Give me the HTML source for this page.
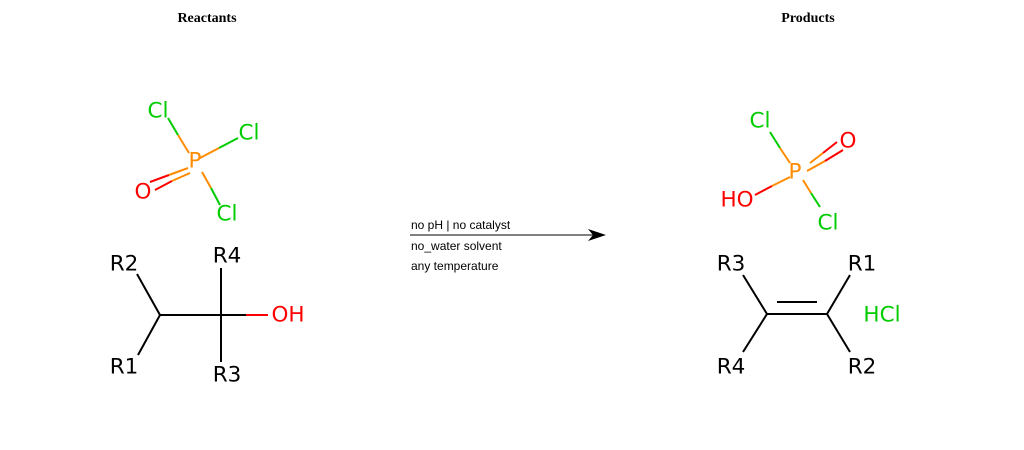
<!DOCTYPE html>
<html><head><meta charset="utf-8"><style>
html,body{margin:0;padding:0;background:#fff;}
svg{display:block;}
.t{font-family:"DejaVu Sans","Liberation Sans",sans-serif;font-size:21.5px;text-anchor:middle;dominant-baseline:central;}
.h{font-family:"Liberation Serif",serif;font-weight:bold;font-size:14px;text-anchor:middle;}
.c{font-family:"Liberation Sans",sans-serif;font-size:12px;}
</style></head><body>
<svg width="1024" height="450" viewBox="0 0 1024 450">
<text class="h" x="207" y="22">Reactants</text>
<text class="h" x="808" y="22">Products</text>

<g stroke-width="2" fill="none">
<line x1="168" y1="118" x2="178" y2="135" stroke="#00cc00"/><line x1="178" y1="135" x2="189" y2="153" stroke="#ff8c00"/>
<line x1="238" y1="138" x2="219" y2="148" stroke="#00cc00"/><line x1="219" y1="148" x2="200" y2="158" stroke="#ff8c00"/>
<line x1="150" y1="182" x2="169" y2="175" stroke="#ff0000"/><line x1="169" y1="175" x2="188" y2="168" stroke="#ff8c00"/>
<line x1="155" y1="190" x2="172" y2="181" stroke="#ff0000"/><line x1="172" y1="181" x2="190" y2="173" stroke="#ff8c00"/>
<line x1="202" y1="172" x2="211" y2="188" stroke="#ff8c00"/><line x1="211" y1="188" x2="220" y2="205" stroke="#00cc00"/>
</g>
<text class="t" x="158" y="111" fill="#00cc00">Cl</text>
<text class="t" x="249" y="133" fill="#00cc00">Cl</text>
<text class="t" x="195" y="161" fill="#ff8c00">P</text>
<text class="t" x="143" y="192" fill="#ff0000">O</text>
<text class="t" x="227" y="214" fill="#00cc00">Cl</text>

<g stroke-width="2" fill="none" stroke="#000">
<line x1="137" y1="274" x2="160" y2="315"/><line x1="160" y1="315" x2="138" y2="355"/>
<line x1="160" y1="315" x2="221" y2="315"/>
<line x1="221" y1="268" x2="221" y2="362"/>
<line x1="221" y1="315" x2="246" y2="315"/><line x1="246" y1="315" x2="268" y2="315" stroke="#ff0000"/>
</g>
<text class="t" x="124" y="264" fill="#000">R2</text>
<text class="t" x="124" y="367" fill="#000">R1</text>
<text class="t" x="227" y="256" fill="#000">R4</text>
<text class="t" x="227" y="375" fill="#000">R3</text>
<text class="t" x="288" y="315" fill="#ff0000">OH</text>

<g>
<line x1="410" y1="235" x2="595" y2="235" stroke="#000" stroke-width="1"/>
<polygon points="606,235 588,229 593,235 588,241" fill="#000"/>
</g>
<text class="c" x="411" y="229">no pH | no catalyst</text>
<text class="c" x="411" y="250">no_water solvent</text>
<text class="c" x="411" y="270">any temperature</text>

<g stroke-width="2" fill="none">
<line x1="770" y1="132" x2="780" y2="148" stroke="#00cc00"/><line x1="780" y1="148" x2="790" y2="163" stroke="#ff8c00"/>
<line x1="810" y1="163" x2="823" y2="153" stroke="#ff8c00"/><line x1="823" y1="153" x2="837" y2="142" stroke="#ff0000"/>
<line x1="807" y1="171" x2="825" y2="161" stroke="#ff8c00"/><line x1="825" y1="161" x2="843" y2="150" stroke="#ff0000"/>
<line x1="755" y1="195" x2="772" y2="186" stroke="#ff0000"/><line x1="772" y1="186" x2="790" y2="177" stroke="#ff8c00"/>
<line x1="803" y1="180" x2="811" y2="193" stroke="#ff8c00"/><line x1="811" y1="193" x2="820" y2="207" stroke="#00cc00"/>
</g>
<text class="t" x="760" y="121" fill="#00cc00">Cl</text>
<text class="t" x="848" y="141" fill="#ff0000">O</text>
<text class="t" x="795" y="172" fill="#ff8c00">P</text>
<text class="t" x="737" y="200" fill="#ff0000">HO</text>
<text class="t" x="828" y="223" fill="#00cc00">Cl</text>

<g stroke-width="2" fill="none" stroke="#000">
<line x1="743" y1="275" x2="767" y2="314"/><line x1="767" y1="314" x2="743" y2="352"/>
<line x1="767" y1="314" x2="827" y2="314"/><line x1="777" y1="302" x2="817" y2="302"/>
<line x1="850" y1="275" x2="827" y2="314"/><line x1="827" y1="314" x2="850" y2="352"/>
</g>
<text class="t" x="731" y="264" fill="#000">R3</text>
<text class="t" x="731" y="367" fill="#000">R4</text>
<text class="t" x="862" y="264" fill="#000">R1</text>
<text class="t" x="862" y="367" fill="#000">R2</text>
<text class="t" x="882" y="315" fill="#00cc00">HCl</text>
</svg>
</body></html>
